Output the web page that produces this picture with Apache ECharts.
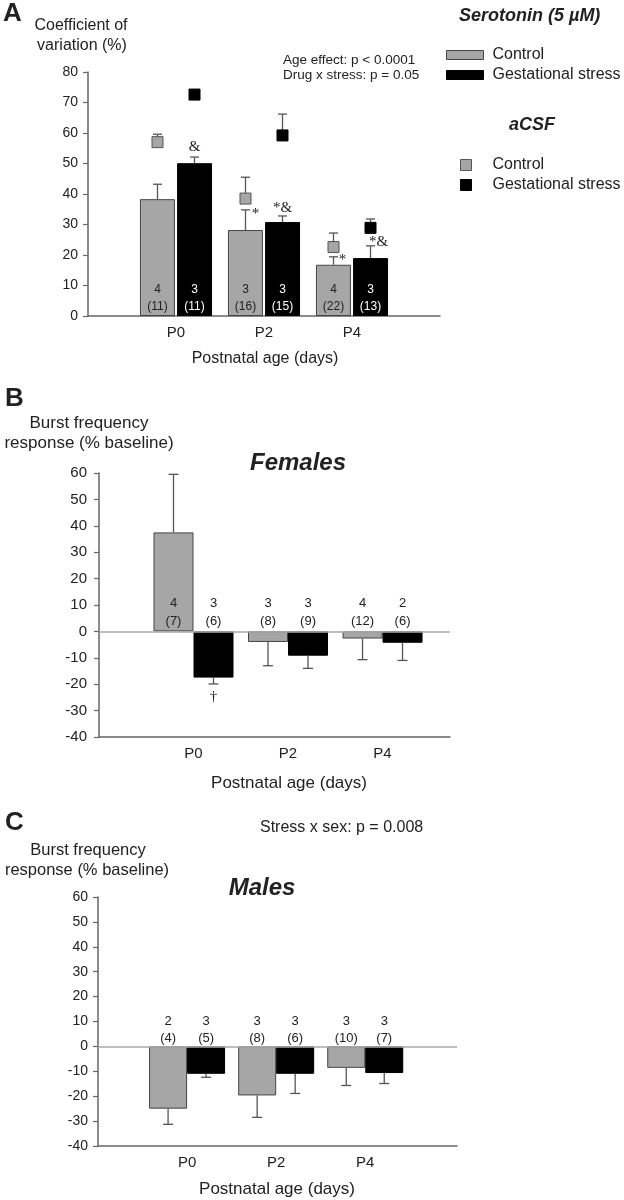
<!DOCTYPE html>
<html><head><meta charset="utf-8">
<script src="https://cdn.jsdelivr.net/npm/echarts@6/dist/echarts.min.js"></script>
<style>html,body{margin:0;padding:0;background:#fff}#c{width:624px;height:1200px}</style>
</head><body><div id="c"></div>
<script>
// ---------- data ----------
const categories = ['P0', 'P2', 'P4'];

// Panel A: coefficient of variation (%)
const aSerCtrl = [38.3, 28.2, 16.8];
const aSerCtrlSem = [4.9, 6.6, 2.6];
const aSerStress = [50.1, 30.8, 19.0];
const aSerStressSem = [2.0, 2.0, 4.0];
const aCsfCtrl = [57.0, 38.5, 22.6];
const aCsfCtrlSem = [2.6, 7.0, 4.6];
const aCsfStress = [72.6, 59.2, 28.9];
const aCsfStressSem = [0, 7.0, 2.9];
const aCtrlAnimals = [4, 3, 4];
const aCtrlCells = [11, 16, 22];
const aStressAnimals = [3, 3, 3];
const aStressCells = [11, 15, 13];
const aCtrlMarks = ['', '*', '*'];
const aStressMarks = ['&', '*&', '*&'];

// Panel B: females, burst frequency response (% baseline)
const bCtrl = [37.5, -4.0, -2.7];
const bCtrlSem = [22.0, 9.0, 8.0];
const bStress = [-17.5, -9.2, -4.3];
const bStressSem = [2.4, 4.8, 6.7];
const bCtrlAnimals = [4, 3, 4];
const bCtrlCells = [7, 8, 12];
const bStressAnimals = [3, 3, 2];
const bStressCells = [6, 9, 6];
const bStressMarks = ['\u2020', '', ''];

// Panel C: males
const cCtrl = [-25.0, -19.7, -8.6];
const cCtrlSem = [6.3, 8.8, 7.1];
const cStress = [-11.0, -11.0, -10.7];
const cStressSem = [1.4, 7.9, 4.2];
const cCtrlAnimals = [2, 3, 3];
const cCtrlCells = [4, 8, 10];
const cStressAnimals = [3, 3, 3];
const cStressCells = [5, 6, 7];

// axis ticks
const yTicksA = { min: 0, max: 80, interval: 10 };
const yTicksBC = { min: -40, max: 60, interval: 10 };

// ---------- style (placement of annotation marks, px relative to error cap) ----------
const aCtrlMarkOffsets = [[0, 0], [10, 4], [9, 3]];
const aStressMarkOffsets = [[0, -10], [0, -8], [8, -4]];
const bStressMarkOffsets = [[0, 13], [0, 0], [0, 0]];

const FONT = '"Liberation Sans", Arial, Helvetica, sans-serif';
const GRAY = '#a6a6a6';
const AXIS = '#666';

function decor(o) {
  return {
    type: 'custom', name: o.name, xAxisIndex: o.gi, yAxisIndex: o.gi, z: 5, silent: true,
    itemStyle: o.square ? { color: o.squareColor, borderColor: o.squareBorder, borderWidth: 1 } : undefined,
    data: o.means.map((m, i) => [i + 1, m, m + (m >= 0 ? 1 : -1) * o.sems[i]]),
    renderItem: (params, api) => {
      const i = params.dataIndex;
      const x = api.value(0);
      const pB = api.coord([x, api.value(1)]);
      const pE = api.coord([x, api.value(2)]);
      const cx = pB[0] + o.offset;
      const ch = [];
      if (o.sems[i] > 0) {
        ch.push({ type: 'line', shape: { x1: cx, y1: pB[1], x2: cx, y2: pE[1] }, style: { stroke: '#555', lineWidth: 1.3 } });
        ch.push({ type: 'line', shape: { x1: cx - o.capW / 2, y1: pE[1], x2: cx + o.capW / 2, y2: pE[1] }, style: { stroke: '#555', lineWidth: 1.3 } });
      }
      if (o.square) {
        ch.push({ type: 'rect', shape: { x: cx - 5.5, y: pB[1] - 5.5, width: 11, height: 11 }, style: { fill: o.squareColor, stroke: o.squareBorder, lineWidth: 1 } });
      }
      if (o.animals) {
        const pZ = api.coord([x, 0]);
        const f = o.labelSize + 'px ' + FONT;
        ch.push({ type: 'text', x: cx, y: pZ[1] + o.numDy, style: { text: String(o.animals[i]), fill: o.labelColor, font: f, align: 'center', verticalAlign: 'middle' } });
        ch.push({ type: 'text', x: cx, y: pZ[1] + o.cellDy, style: { text: '(' + o.cells[i] + ')', fill: o.labelColor, font: f, align: 'center', verticalAlign: 'middle' } });
      }
      if (o.marks && o.marks[i]) {
        const off = o.markOffsets[i];
        ch.push({ type: 'text', x: cx + off[0], y: pE[1] + off[1], style: { text: o.marks[i], fill: '#222', font: '15px "Liberation Serif", "Times New Roman", serif', align: 'center', verticalAlign: 'middle' } });
      }
      return { type: 'group', children: ch };
    }
  };
}

function yAxis(gi, t, size, margin) {
  return {
    type: 'value', gridIndex: gi, min: t.min, max: t.max, interval: t.interval,
    axisLine: { show: true, lineStyle: { color: AXIS, width: 1.5 } },
    axisTick: { show: true, length: 5, lineStyle: { color: AXIS, width: 1.2 } },
    splitLine: { show: false },
    axisLabel: { fontSize: size, color: '#222', fontFamily: FONT, margin: margin }
  };
}
function xAxis(gi, max) {
  return {
    type: 'value', gridIndex: gi, min: 0, max: max, interval: 1,
    axisLine: { show: true, onZero: false, lineStyle: { color: AXIS, width: 1.5 } },
    axisTick: { show: false }, splitLine: { show: false },
    axisLabel: { fontSize: 15, color: '#222', fontFamily: FONT, margin: 9, formatter: v => categories[v - 1] || '' }
  };
}
function bar(name, gi, vals, color, border, width, gap, zeroLine) {
  const s = {
    type: 'bar', name: name, xAxisIndex: gi, yAxisIndex: gi, barWidth: width, barGap: gap,
    data: vals.map((v, i) => [i + 1, v]), silent: true,
    itemStyle: { color: color, borderColor: border, borderWidth: 1 }
  };
  if (zeroLine) {
    s.markLine = { silent: true, symbol: 'none', label: { show: false }, animation: false,
      lineStyle: { color: '#aaa', width: 1.5, type: 'solid' }, data: [{ yAxis: 0 }] };
  }
  return s;
}
function txt(x, y, text, font, align) {
  return { type: 'text', x: x, y: y, silent: true, style: { text: text, font: font, fill: '#222', align: align || 'center', verticalAlign: 'middle' } };
}

const chart = echarts.init(document.getElementById('c'), null, { renderer: 'canvas' });
chart.setOption({
  animation: false,
  backgroundColor: '#fff',
  grid: [
    { left: 88, top: 72, width: 352, height: 244 },
    { left: 99, top: 473, width: 351, height: 264 },
    { left: 98, top: 897, width: 359, height: 249 }
  ],
  xAxis: [xAxis(0, 4), xAxis(1, 3.714), xAxis(2, 4.03)],
  yAxis: [yAxis(0, yTicksA, 14, 10), yAxis(1, yTicksBC, 15, 12), yAxis(2, yTicksBC, 14, 10)],
  legend: [
    { left: 446, top: 47, orient: 'vertical', padding: 0, itemWidth: 37, itemHeight: 9, itemGap: 4, selectedMode: false,
      itemStyle: { borderWidth: 1 },
      data: [{ name: 'Serotonin Control', icon: 'rect' }, { name: 'Serotonin Gestational stress', icon: 'rect' }],
      formatter: n => n.replace('Serotonin ', ''),
      textStyle: { fontSize: 16, fontFamily: FONT, color: '#222', padding: [0, 0, 0, 4], lineHeight: 16 } },
    { left: 460, top: 157, orient: 'vertical', padding: 0, itemWidth: 11, itemHeight: 11, itemGap: 4, selectedMode: false,
      itemStyle: { borderWidth: 1 },
      data: [{ name: 'aCSF Control', icon: 'rect' }, { name: 'aCSF Gestational stress', icon: 'rect' }],
      formatter: n => n.replace('aCSF ', ''),
      textStyle: { fontSize: 16, fontFamily: FONT, color: '#222', padding: [0, 0, 0, 16], lineHeight: 16 } }
  ],
  series: [
    // Panel A
    bar('Serotonin Control', 0, aSerCtrl, GRAY, '#444', 35, '6%', false),
    bar('Serotonin Gestational stress', 0, aSerStress, '#000', '#000', 35, '6%', false),
    decor({ gi: 0, means: aSerCtrl, sems: aSerCtrlSem, offset: -18.5, capW: 9, animals: aCtrlAnimals, cells: aCtrlCells,
      labelColor: '#222', labelSize: 12, numDy: -26, cellDy: -9, marks: aCtrlMarks, markOffsets: aCtrlMarkOffsets }),
    decor({ gi: 0, means: aSerStress, sems: aSerStressSem, offset: 18.5, capW: 9, animals: aStressAnimals, cells: aStressCells,
      labelColor: '#fff', labelSize: 12, numDy: -26, cellDy: -9, marks: aStressMarks, markOffsets: aStressMarkOffsets }),
    decor({ gi: 0, name: 'aCSF Control', means: aCsfCtrl, sems: aCsfCtrlSem, offset: -18.5, capW: 9, square: true, squareColor: GRAY, squareBorder: '#555' }),
    decor({ gi: 0, name: 'aCSF Gestational stress', means: aCsfStress, sems: aCsfStressSem, offset: 18.5, capW: 9, square: true, squareColor: '#000', squareBorder: '#000' }),
    // Panel B
    bar('Females Control', 1, bCtrl, GRAY, '#444', 40, 0, true),
    bar('Females Gestational stress', 1, bStress, '#000', '#000', 40, 0, false),
    decor({ gi: 1, means: bCtrl, sems: bCtrlSem, offset: -20, capW: 10, animals: bCtrlAnimals, cells: bCtrlCells,
      labelColor: '#222', labelSize: 13, numDy: -28, cellDy: -10 }),
    decor({ gi: 1, means: bStress, sems: bStressSem, offset: 20, capW: 10, animals: bStressAnimals, cells: bStressCells,
      labelColor: '#222', labelSize: 13, numDy: -28, cellDy: -10, marks: bStressMarks, markOffsets: bStressMarkOffsets }),
    // Panel C
    bar('Males Control', 2, cCtrl, GRAY, '#444', 38, 0, true),
    bar('Males Gestational stress', 2, cStress, '#000', '#000', 38, 0, false),
    decor({ gi: 2, means: cCtrl, sems: cCtrlSem, offset: -19, capW: 10, animals: cCtrlAnimals, cells: cCtrlCells,
      labelColor: '#222', labelSize: 13, numDy: -25, cellDy: -8 }),
    decor({ gi: 2, means: cStress, sems: cStressSem, offset: 19, capW: 10, animals: cStressAnimals, cells: cStressCells,
      labelColor: '#222', labelSize: 13, numDy: -25, cellDy: -8 })
  ],
  graphic: [
    // Panel A
    txt(3, 14, 'A', 'bold 26px ' + FONT, 'left'),
    txt(81, 26, 'Coefficient of', '16px ' + FONT),
    txt(82, 46, 'variation (%)', '16px ' + FONT),
    txt(283, 60, 'Age effect: p < 0.0001', '13.5px ' + FONT, 'left'),
    txt(283, 75, 'Drug x stress: p = 0.05', '13.5px ' + FONT, 'left'),
    txt(459, 16, 'Serotonin (5 \u00b5M)', 'italic bold 18px ' + FONT, 'left'),
    txt(509, 125, 'aCSF', 'italic bold 18px ' + FONT, 'left'),
    txt(265, 359, 'Postnatal age (days)', '16px ' + FONT),
    // Panel B
    txt(5, 399, 'B', 'bold 26px ' + FONT, 'left'),
    txt(89, 423, 'Burst frequency', '17px ' + FONT),
    txt(89, 443, 'response (% baseline)', '17px ' + FONT),
    txt(298, 463, 'Females', 'italic bold 24px ' + FONT),
    txt(289, 783, 'Postnatal age (days)', '17px ' + FONT),
    // Panel C
    txt(5, 823, 'C', 'bold 26px ' + FONT, 'left'),
    txt(260, 828, 'Stress x sex: p = 0.008', '16px ' + FONT, 'left'),
    txt(88, 850, 'Burst frequency', '16.5px ' + FONT),
    txt(87, 870, 'response (% baseline)', '16.5px ' + FONT),
    txt(262, 888, 'Males', 'italic bold 24px ' + FONT),
    txt(277, 1189, 'Postnatal age (days)', '17px ' + FONT)
  ]
});
</script></body></html>
